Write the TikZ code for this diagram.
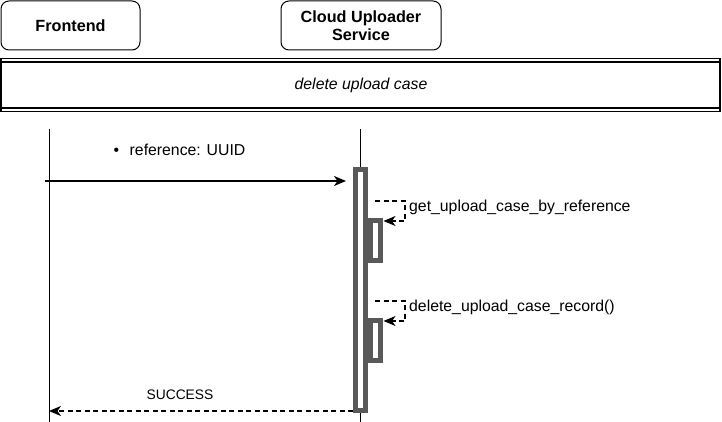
\documentclass[tikz,border=0pt]{standalone}
\usepackage{fontspec}
\setmainfont{Liberation Sans}
\usetikzlibrary{arrows.meta}
\definecolor{bargray}{RGB}{89,89,89}
\tikzset{
  x=1pt,y=-1pt,
  actor/.style={draw=black,line width=1pt,rounded corners=8pt,fill=white,minimum width=139pt,minimum height=49pt,align=center,font=\fontsize{16.2}{18.5}\selectfont\bfseries,inner sep=0pt},
  lifeline/.style={draw=black,line width=1pt},
  actbar/.style={draw=bargray,line width=5pt,fill=white},
  msg/.style={draw=black,line width=1.3pt,-{Stealth[length=12pt,width=10pt,inset=3.5pt]}},
  retmsg/.style={msg,dash pattern=on 5pt off 3.5pt},
  lbl/.style={font=\fontsize{15.8}{18}\selectfont,inner sep=0pt},
  smalllbl/.style={font=\fontsize{13.8}{16}\selectfont,inner sep=0pt},
}
\begin{document}
\begin{tikzpicture}
\useasboundingbox (0,0) rectangle (722,422);
\fill[white] (0,0) rectangle (722,422);
% actors
\node[actor] (fe) at (70.5,25.5) {Frontend};
\node[actor,minimum width=160pt] (svc) at (361,25.5) {Cloud Uploader\\Service};
% band
\draw[line width=1.3pt] (1,58.5) rectangle (720,111.5);
\draw[line width=1.3pt] (1,62) -- (720,62);
\draw[line width=1.3pt] (1,108) -- (720,108);
\node[lbl,font=\fontsize{15.8}{18}\selectfont\itshape] (band) at (361,85) {delete upload case};
% lifelines
\coordinate (feTop) at (49.5,129);
\coordinate (feBot) at (49.5,422);
\coordinate (svTop) at (360.5,129);
\coordinate (svBot) at (360.5,422);
\draw[lifeline] (feTop) -- (feBot);
\draw[lifeline] (svTop) -- (svBot);
% activation bars
\draw[actbar] (355.5,169.5) rectangle (365.5,410.5);
\draw[actbar] (370.5,220) rectangle (380.5,260.5);
\draw[actbar] (370.5,320) rectangle (380.5,360.5);
% request
\coordinate (reqS) at (45,181);
\coordinate (reqE) at (346,181);
\draw[msg] (reqS) -- (reqE);
\node[lbl,anchor=west] (reqlbl) at (113.5,150) {•\hspace{10.5pt}reference: UUID};
% self calls
\coordinate (s1a) at (375,201);
\coordinate (s1b) at (405,201);
\coordinate (s1c) at (405,221);
\coordinate (s1d) at (383.5,221);
\draw[retmsg] (s1a) -- (s1b) -- (s1c) -- (s1d);
\node[lbl,anchor=west] (l1) at (409,207.5) {get\_upload\_case\_by\_reference};
\coordinate (s2a) at (375,301);
\coordinate (s2b) at (405,301);
\coordinate (s2c) at (405,321);
\coordinate (s2d) at (383.5,321);
\draw[retmsg] (s2a) -- (s2b) -- (s2c) -- (s2d);
\node[lbl,anchor=west] (l2) at (409,307.5) {delete\_upload\_case\_record()};
% return
\coordinate (retS) at (353,411);
\coordinate (retE) at (49,411);
\draw[retmsg] (retS) -- (retE);
\node[smalllbl] (retlbl) at (180,395) {SUCCESS};
\end{tikzpicture}
\end{document}
